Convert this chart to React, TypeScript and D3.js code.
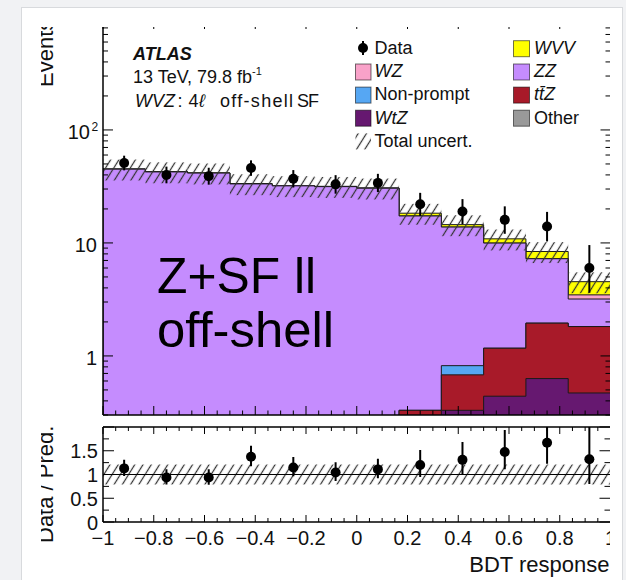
import React from 'react';
import * as d3 from 'd3';

// ---------- data ----------
const binEdges = [-1, -5 / 6, -4 / 6, -3 / 6, -2 / 6, -1 / 6, 0, 1 / 6, 2 / 6, 3 / 6, 4 / 6, 5 / 6, 1];
const dataCounts = [51, 40, 39, 46, 37, 33, 34, 22, 19, 16, 14, 6];
const otherBkg = [0, 0, 0, 0, 0, 0, 0, 0, 0, 0, 0, 0];
const wtzBkg = [0, 0, 0, 0, 0, 0, 0, 0.1, 0.33, 0.44, 0.63, 0.47];
const ttzBkg = [0, 0, 0, 0, 0, 0, 0, 0.23, 0.35, 0.73, 1.32, 1.35];
const nonPromptBkg = [0, 0, 0, 0, 0, 0, 0, 0, 0.14, 0, 0, 0];
const zzBkg = [45, 42.5, 41.5, 33.3, 32, 31.5, 30.5, 17.0, 13.0, 8.8, 5.3, 1.37];
const wzBkg = [0, 0, 0, 0, 0, 0, 0, 0, 0, 0, 0, 0.28];
const wvvBkg = [0.2, 0.2, 0.2, 0.2, 0.2, 0.2, 0.2, 1.0, 0.7, 0.9, 1.15, 1.07];
const relUnc = [0.21, 0.21, 0.21, 0.21, 0.21, 0.21, 0.21, 0.21, 0.21, 0.21, 0.21, 0.21];

const xTickLabels = ['\u22121', '\u22120.8', '\u22120.6', '\u22120.4', '\u22120.2', '0', '0.2', '0.4', '0.6', '0.8', '1'];
const xTickValues = [-1, -0.8, -0.6, -0.4, -0.2, 0, 0.2, 0.4, 0.6, 0.8, 1];
const ratioTickValues = [0, 0.5, 1, 1.5];
const ratioTickLabels = ['0', '0.5', '1', '1.5'];

// stack order bottom -> top
const stackOrder = [
  { key: 'Other', values: otherBkg },
  { key: 'WtZ', values: wtzBkg },
  { key: 'ttZ', values: ttzBkg },
  { key: 'NonPrompt', values: nonPromptBkg },
  { key: 'ZZ', values: zzBkg },
  { key: 'WZ', values: wzBkg },
  { key: 'WVV', values: wvvBkg },
];

const colors: Record<string, string> = {
  WVV: '#ffff00',
  WZ: '#f9a2c9',
  NonPrompt: '#56a7f3',
  WtZ: '#661870',
  ZZ: '#c58cfe',
  ttZ: '#a81a29',
  Other: '#999999',
};

// Garwood-like Poisson interval (Wilson-Hilferty approximation)
function poissonLow(n: number) {
  if (n <= 0) return 0;
  return n * Math.pow(1 - 1 / (9 * n) - 1 / (3 * Math.sqrt(n)), 3);
}
function poissonHigh(n: number) {
  const m = n + 1;
  return m * Math.pow(1 - 1 / (9 * m) + 1 / (3 * Math.sqrt(m)), 3);
}

const FONT = "'Liberation Sans', Arial, Helvetica, sans-serif";

export default function App() {
  const W = 626;
  const H = 580;
  const x = d3.scaleLinear().domain([-1, 1]).range([103, 610.5]);
  const y = d3.scaleLog().domain([0.3, 940]).range([415, 20]);
  const yr = d3.scaleLinear().domain([0, 2]).range([522, 427]);

  const nb = dataCounts.length;
  const cum: number[][] = [];
  let running = new Array(nb).fill(0);
  stackOrder.forEach((s) => {
    running = running.map((r, i) => r + s.values[i]);
    cum.push(running.slice());
  });
  const total = cum[cum.length - 1];

  const yc = (v: number) => (v > 0 ? y(v) : 440);
  const stepPath = (vals: number[]) => {
    let p = `M${x(binEdges[0])},440`;
    for (let i = 0; i < nb; i++) {
      p += `V${yc(vals[i])}H${x(binEdges[i + 1])}`;
    }
    p += 'V440Z';
    return p;
  };

  const logTicks = y.ticks();
  const isMajorLog = (v: number) => Math.abs(Math.log10(v) - Math.round(Math.log10(v))) < 1e-6;
  const xMinor = d3.range(0, 41).map((i) => -1 + i * 0.05);
  const isMajorX = (v: number) => Math.abs(v / 0.2 - Math.round(v / 0.2)) < 1e-6;
  const ratioMinor = d3.range(0, 9).map((i) => i * 0.25);

  const centers = d3.range(nb).map((i) => (binEdges[i] + binEdges[i + 1]) / 2);

  const legendCol1 = [
    { key: 'WZ', label: [{ t: 'WZ', it: true }] },
    { key: 'NonPrompt', label: [{ t: 'Non-prompt', it: false }] },
    { key: 'WtZ', label: [{ t: 'WtZ', it: true }] },
  ];
  const legendCol2 = [
    { key: 'WVV', label: [{ t: 'WVV', it: true }] },
    { key: 'ZZ', label: [{ t: 'ZZ', it: true }] },
    { key: 'ttZ', label: [{ t: 't\u0074\u0304Z', it: true }] },
    { key: 'Other', label: [{ t: 'Other', it: false }] },
  ];
  const rowBase = [54, 77.3, 100.4, 123.5, 146.7];

  return (
    <svg width={W} height={H} style={{ position: 'absolute', left: 0, top: 0 }} fontFamily={FONT}>
      <defs>
        <pattern id="hatch" patternUnits="userSpaceOnUse" width="7" height="7" patternTransform="rotate(32)">
          <line x1="3.5" y1="-1" x2="3.5" y2="8" stroke="#333" strokeWidth="1.25" />
        </pattern>
        <clipPath id="fig">
          <rect x={41} y={27} width={569} height={H - 27} />
        </clipPath>
        <clipPath id="mainClip">
          <rect x={103} y={20} width={507.5} height={395} />
        </clipPath>
        <clipPath id="ratioClip">
          <rect x={103} y={427} width={507.5} height={95} />
        </clipPath>
      </defs>
      <rect x={0} y={0} width={W} height={H} fill="#f1f2f4" />
      <rect x={21.5} y={7.5} width={601} height={H} fill="#ffffff" stroke="#d8dadd" />

      <g clipPath="url(#fig)">
        {/* ---------- main plot ---------- */}
        <g clipPath="url(#mainClip)">
          {stackOrder
            .map((s, k) => ({ s, k }))
            .reverse()
            .map(({ s, k }) => (
              <path key={s.key} d={stepPath(cum[k])} fill={colors[s.key]} stroke="#1a1a1a" strokeWidth={1} />
            ))}
          {d3.range(nb).map((i) => (
            <rect
              key={'u' + i}
              x={x(binEdges[i])}
              width={x(binEdges[i + 1]) - x(binEdges[i])}
              y={y(total[i] * (1 + relUnc[i]))}
              height={y(total[i] * (1 - relUnc[i])) - y(total[i] * (1 + relUnc[i]))}
              fill="url(#hatch)"
            />
          ))}
          {d3.range(nb).map((i) => (
            <g key={'d' + i}>
              <line
                x1={x(centers[i])}
                x2={x(centers[i])}
                y1={y(poissonHigh(dataCounts[i]))}
                y2={y(poissonLow(dataCounts[i]))}
                stroke="#000"
                strokeWidth={2}
              />
              <circle cx={x(centers[i])} cy={y(dataCounts[i])} r={5} fill="#000" />
            </g>
          ))}
        </g>
        {/* frame */}
        <line x1={103} x2={103} y1={20} y2={415} stroke="#000" strokeWidth={1.5} />
        <line x1={103} x2={611} y1={415} y2={415} stroke="#000" strokeWidth={1.5} />
        <line x1={103} x2={611} y1={20} y2={20} stroke="#000" strokeWidth={1.5} />
        <line x1={610.8} x2={610.8} y1={20} y2={415} stroke="#000" strokeWidth={1.5} />
        {logTicks.map((v, i) => {
          const L = isMajorLog(v) ? 10 : 5;
          return (
            <g key={'lt' + i}>
              <line x1={103} x2={103 + L} y1={y(v)} y2={y(v)} stroke="#000" strokeWidth={1} />
              <line x1={610.5} x2={610.5 - L} y1={y(v)} y2={y(v)} stroke="#000" strokeWidth={1} />
            </g>
          );
        })}
        {xMinor.map((v, i) => {
          const L = isMajorX(v) ? 9 : 4.5;
          return (
            <g key={'xt' + i}>
              <line x1={x(v)} x2={x(v)} y1={415} y2={415 - L} stroke="#000" strokeWidth={1} />
              <line x1={x(v)} x2={x(v)} y1={20} y2={20 + L} stroke="#000" strokeWidth={1} />
            </g>
          );
        })}
        {/* y labels */}
        <text x={90} y={y(100) + 9} fontSize={20} textAnchor="end" fill="#111">10</text>
        <text x={91.5} y={y(100) + 1} fontSize={12} textAnchor="start" fill="#111">2</text>
        <text x={97} y={y(10) + 9} fontSize={20} textAnchor="end" fill="#111">10</text>
        <text x={97} y={y(1) + 9} fontSize={20} textAnchor="end" fill="#111">1</text>
        <text transform="translate(52.5,87) rotate(-90)" fontSize={22} fill="#111">Events</text>

        {/* ATLAS label */}
        <text x={133} y={60} fontSize={18} fontWeight="bold" fontStyle="italic" fill="#111">ATLAS</text>
        <text x={133} y={83} fontSize={18} fill="#111">
          13 TeV, 79.8 fb
          <tspan fontSize={11} dy={-8}>-1</tspan>
        </text>
        <text x={135} y={107} fontSize={18} fill="#111" fontStyle="italic">WVZ</text>
        <text x={177.5} y={107} fontSize={18} fill="#111">:</text>
        <text x={188.5} y={107} fontSize={18} fill="#111">4</text>
        <text x={199} y={107} fontSize={18} fill="#111" fontStyle="italic">{'\u2113'}</text>
        <text x={220} y={107} fontSize={18} fill="#111" textLength={73} lengthAdjust="spacing">off-shell</text>
        <text x={297} y={107} fontSize={18} fill="#111" textLength={22} lengthAdjust="spacing">SF</text>

        {/* legend */}
        <line x1={363} x2={363} y1={41} y2={55} stroke="#000" strokeWidth={2} />
        <circle cx={363} cy={48} r={5} fill="#000" />
        <text x={374.5} y={rowBase[0]} fontSize={18} fill="#111">Data</text>
        {legendCol1.map((e, i) => (
          <g key={e.key}>
            <rect x={355.5} y={rowBase[i + 1] - 13.3} width={15.5} height={16} fill={colors[e.key]} stroke="#000" strokeOpacity={0.55} strokeWidth={1} />
            <text x={374.5} y={rowBase[i + 1]} fontSize={18} fill="#111">
              {e.label.map((l, j) => (
                <tspan key={j} fontStyle={l.it ? 'italic' : 'normal'}>{l.t}</tspan>
              ))}
            </text>
          </g>
        ))}
        <rect x={355.5} y={rowBase[4] - 13.3} width={15.5} height={16} fill="url(#hatch)" />
        <text x={374.5} y={rowBase[4]} fontSize={18} fill="#111">Total uncert.</text>
        {legendCol2.map((e, i) => (
          <g key={e.key}>
            <rect x={513.5} y={rowBase[i] - 13.3} width={16} height={16} fill={colors[e.key]} stroke="#000" strokeOpacity={0.55} strokeWidth={1} />
            <text x={534} y={rowBase[i]} fontSize={18} fill="#111">
              {e.label.map((l, j) => (
                <tspan key={j} fontStyle={l.it ? 'italic' : 'normal'}>{l.t}</tspan>
              ))}
            </text>
          </g>
        ))}

        {/* annotation */}
        <text x={157} y={293} fontSize={50} fill="#000" textLength={159} lengthAdjust="spacingAndGlyphs">Z+SF ll</text>
        <text x={157} y={347} fontSize={50} fill="#000" textLength={177} lengthAdjust="spacingAndGlyphs">off-shell</text>

        {/* ---------- ratio panel ---------- */}
        <g clipPath="url(#ratioClip)">
          {d3.range(nb).map((i) => (
            <rect
              key={'ru' + i}
              x={x(binEdges[i])}
              width={x(binEdges[i + 1]) - x(binEdges[i])}
              y={yr(1 + relUnc[i])}
              height={yr(1 - relUnc[i]) - yr(1 + relUnc[i])}
              fill="url(#hatch)"
            />
          ))}
          <line x1={103} x2={611} y1={yr(1)} y2={yr(1)} stroke="#000" strokeWidth={1.2} />
          {d3.range(nb).map((i) => (
            <g key={'rd' + i}>
              <line
                x1={x(centers[i])}
                x2={x(centers[i])}
                y1={yr(poissonHigh(dataCounts[i]) / total[i])}
                y2={yr(poissonLow(dataCounts[i]) / total[i])}
                stroke="#000"
                strokeWidth={2}
              />
              <circle cx={x(centers[i])} cy={yr(dataCounts[i] / total[i])} r={5} fill="#000" />
            </g>
          ))}
        </g>
        <line x1={103} x2={611} y1={427} y2={427} stroke="#000" strokeWidth={1.5} />
        <line x1={103} x2={611} y1={522} y2={522} stroke="#000" strokeWidth={1.5} />
        <line x1={103} x2={103} y1={427} y2={522} stroke="#000" strokeWidth={1.5} />
        <line x1={610.8} x2={610.8} y1={427} y2={522} stroke="#000" strokeWidth={1.5} />
        {xMinor.map((v, i) => {
          const L = isMajorX(v) ? 7 : 4;
          return (
            <g key={'rxt' + i}>
              <line x1={x(v)} x2={x(v)} y1={522} y2={522 - L} stroke="#000" strokeWidth={1} />
              <line x1={x(v)} x2={x(v)} y1={427} y2={427 + L} stroke="#000" strokeWidth={1} />
            </g>
          );
        })}
        {ratioMinor.map((v, i) => {
          const major = Math.abs(v * 2 - Math.round(v * 2)) < 1e-6;
          const L = major ? 11 : 6;
          return (
            <g key={'ryt' + i}>
              <line x1={103} x2={103 + L} y1={yr(v)} y2={yr(v)} stroke="#000" strokeWidth={1} />
              <line x1={610.5} x2={610.5 - L} y1={yr(v)} y2={yr(v)} stroke="#000" strokeWidth={1} />
            </g>
          );
        })}
        {ratioTickValues.map((v, i) => (
          <text key={'ryl' + i} x={98} y={yr(v) + 7.5} fontSize={20} textAnchor="end" fill="#111">
            {ratioTickLabels[i]}
          </text>
        ))}
        {xTickValues.map((v, i) => (
          <text key={'xl' + i} x={x(v)} y={545} fontSize={20} textAnchor="middle" fill="#111">
            {xTickLabels[i]}
          </text>
        ))}
        <text transform="translate(53,543) rotate(-90)" fontSize={22} fill="#111">Data / Pred.</text>
        <text x={609.5} y={572} fontSize={22} textAnchor="end" fill="#111">BDT response</text>
      </g>
    </svg>
  );
}
